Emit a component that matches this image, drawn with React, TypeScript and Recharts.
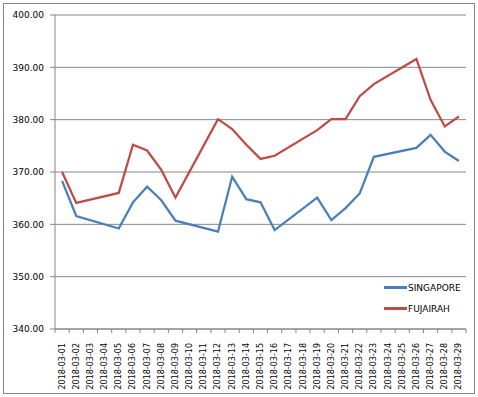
import { LineChart, Line, XAxis, YAxis, CartesianGrid, Legend } from 'recharts'

const dates = [
    '2018-03-01', '2018-03-02', '2018-03-03', '2018-03-04', '2018-03-05', '2018-03-06',
    '2018-03-07', '2018-03-08', '2018-03-09', '2018-03-10', '2018-03-11', '2018-03-12',
    '2018-03-13', '2018-03-14', '2018-03-15', '2018-03-16', '2018-03-17', '2018-03-18',
    '2018-03-19', '2018-03-20', '2018-03-21', '2018-03-22', '2018-03-23', '2018-03-24',
    '2018-03-25', '2018-03-26', '2018-03-27', '2018-03-28', '2018-03-29',
]

// weekends have no quote, the lines just connect across them
const singapore = [
    368.3, 361.6, null, null, 359.2, 364.2, 367.2, 364.6, 360.7, null, null, 358.6, 369.1, 364.8,
    364.2, 358.9, null, null, 365.1, 360.8, 363.1, 365.9, 372.9, null, null, 374.6, 377.1, 373.9, 372.1,
]

const fujairah = [
    370.0, 364.1, null, null, 366.0, 375.2, 374.1, 370.4, 365.1, null, null, 380.1, 378.2, 375.2,
    372.5, 373.1, null, null, 378.0, 380.1, 380.1, 384.5, 386.8, null, null, 391.6, 383.8, 378.7, 380.6,
]

const yTicks = [340, 350, 360, 370, 380, 390, 400]

const series = [
    { key: 'sg', name: 'SINGAPORE', color: '#4A7EBB' },
    { key: 'fj', name: 'FUJAIRAH', color: '#BE4B48' },
]

const data = dates.map((d, i) => ({ i, date: d, sg: singapore[i], fj: fujairah[i] }))

// label ticks on the categories, tick marks on the boundaries between them
const xTicks: number[] = []
for (let i = 0; i < dates.length; i++) xTicks.push(i - 0.5, i)
xTicks.push(dates.length - 0.5)

const GRAY = '#868686'
const FONT = '"DejaVu Sans", sans-serif'

function DateTick({ x, y, payload }: any) {
    const v = payload.value
    if (v % 1 !== 0) {
        return <line x1={x} x2={x} y1={y} y2={y + 4} stroke={GRAY} />
    }
    return (
        <text
            transform={`translate(${x},${y + 14}) rotate(-90)`}
            textAnchor="end"
            dominantBaseline="central"
            fontSize={8}
            fontFamily={FONT}
            fill="#000"
        >
            {dates[v]}
        </text>
    )
}

function LegendBox() {
    return (
        <div style={{ fontFamily: FONT, fontSize: 9, color: '#000' }}>
            {series.map(s => (
                <div key={s.key} style={{ display: 'flex', alignItems: 'center', height: 21 }}>
                    <div style={{ width: 23, height: 2.25, background: s.color, marginRight: 1 }} />
                    <span>{s.name}</span>
                </div>
            ))}
        </div>
    )
}

export default function App() {
    return (
        <div style={{ position: 'relative', width: 478, height: 397, background: '#fff' }}>
            <style>{`body { margin: 0; }`}</style>
            <div
                style={{
                    position: 'absolute', left: 3, top: 3, width: 472, height: 391,
                    border: `1px solid ${GRAY}`, boxSizing: 'border-box',
                }}
            />
            <div style={{ position: 'absolute', left: 0, top: 0 }}>
                <LineChart width={478} height={397} data={data} margin={{ top: 15, right: 12, left: 0, bottom: 0 }}>
                    <CartesianGrid vertical={false} stroke={GRAY} />
                    <XAxis
                        dataKey="i"
                        type="number"
                        domain={[-0.5, dates.length - 0.5]}
                        ticks={xTicks}
                        interval={0}
                        height={68}
                        tickSize={0}
                        tickMargin={0}
                        tickLine={false}
                        axisLine={{ stroke: GRAY }}
                        tick={<DateTick />}
                    />
                    <YAxis
                        domain={[340, 400]}
                        ticks={yTicks}
                        width={55}
                        tickSize={5}
                        tickMargin={6}
                        tickFormatter={(v: number) => v.toFixed(2)}
                        tick={{ fill: '#000', fontSize: 9, fontFamily: FONT }}
                        tickLine={{ stroke: GRAY }}
                        axisLine={{ stroke: GRAY }}
                    />
                    <Legend
                        layout="vertical"
                        align="center"
                        verticalAlign="middle"
                        wrapperStyle={{ left: 384, top: 277, width: 90 }}
                        content={<LegendBox />}
                    />
                    {series.map(s => (
                        <Line
                            key={s.key}
                            dataKey={s.key}
                            name={s.name}
                            stroke={s.color}
                            strokeWidth={2.25}
                            dot={false}
                            connectNulls
                            isAnimationActive={false}
                        />
                    ))}
                </LineChart>
            </div>
        </div>
    )
}
